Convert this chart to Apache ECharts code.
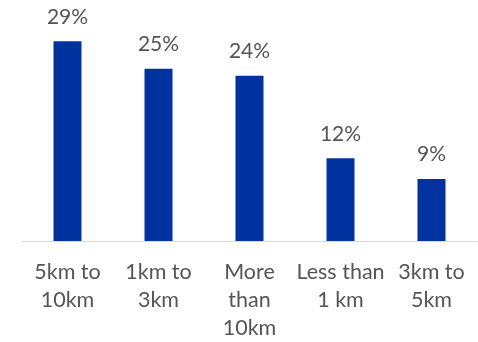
<!DOCTYPE html>
<html>
<head>
<meta charset="utf-8">
<script src="https://cdn.jsdelivr.net/npm/echarts@6/dist/echarts.min.js"></script>
<style>
  html, body { margin: 0; padding: 0; background: #fff; }
  #chart { width: 478px; height: 342px; }
</style>
</head>
<body>
<div id="chart"></div>
<script>
// Distance bands and the share of respondents in each
const categories = ['5km to\n10km', '1km to\n3km', 'More\nthan\n10km', 'Less than\n1 km', '3km to\n5km'];
const shares = [29, 25, 24, 12, 9];

const textColor = '#555555';
const fontFamily = 'Lato, "DejaVu Sans", sans-serif';

const chart = echarts.init(document.getElementById('chart'), null, { renderer: 'canvas' });
chart.setOption({
  animation: false,
  grid: { left: 22, right: 1, top: 0, bottom: 98, containLabel: false },
  xAxis: {
    type: 'category',
    data: categories,
    axisLine: { lineStyle: { color: '#d9d9d9', width: 1 } },
    axisTick: { show: false },
    axisLabel: {
      color: textColor,
      fontFamily: fontFamily,
      fontSize: 21.5,
      lineHeight: 28,
      margin: 17,
      interval: 0
    }
  },
  yAxis: {
    type: 'value',
    min: 0,
    max: 35,
    show: false,
    splitLine: { show: false }
  },
  series: [{
    type: 'bar',
    data: shares,
    barWidth: 28,
    itemStyle: { color: '#0033a0' },
    label: {
      show: true,
      position: 'top',
      distance: 14,
      color: textColor,
      fontFamily: fontFamily,
      fontSize: 21,
      formatter: p => p.value + '%'
    }
  }]
});
</script>
</body>
</html>
